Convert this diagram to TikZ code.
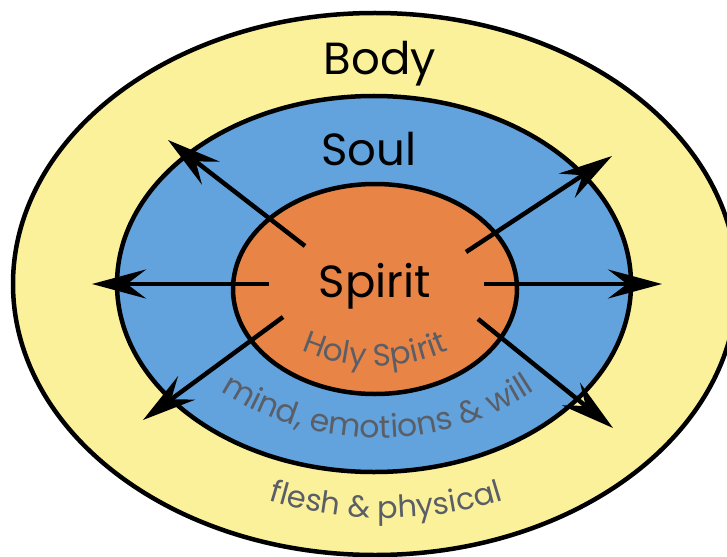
\documentclass[tikz,border=0pt]{standalone}
\usepackage{fontspec}
\setmainfont{Poppins}
\usetikzlibrary{arrows.meta}
\definecolor{bodyyellow}{RGB}{251,241,155}
\definecolor{soulblue}{RGB}{99,163,221}
\definecolor{spiritorange}{RGB}{232,132,69}
\definecolor{txtgray}{RGB}{90,94,102}
\newlength\arcw
\newlength\arcpos
\newlength\chw
\newcommand\measurech[2]{%
  \pgfinterruptpicture\settowidth{\chw}{#1#2}\global\chw=\chw\endpgfinterruptpicture}
% #1 centre "x,y", #2 radius, #3 font, #4 list of characters
\newcommand\arctext[4]{%
  \global\arcw=0pt
  \foreach \ch in {#4}{\measurech{#3}{\ch}\global\advance\arcw by \chw}%
  \global\arcpos=-0.5\arcw
  \foreach \ch in {#4}{%
    \measurech{#3}{\ch}%
    \pgfmathsetmacro\ang{270+(\arcpos+0.5*\chw)/#2*180/pi}%
    \node[anchor=base, inner sep=0pt, text=txtgray, font=#3, rotate=\ang-270]
      at ([shift={(\ang:#2)}]#1) {\ch};
    \global\advance\arcpos by \chw
  }%
}
\begin{document}
\begin{tikzpicture}[x=1pt,y=1pt,
  ring/.style={draw=black, line width=4.5pt},
  arr/.style={line width=4.5pt, -{Stealth[length=54pt,width=29pt,inset=19pt]}},
  big/.style={font=\fontsize{45}{45}\selectfont, anchor=base, inner sep=0pt}
]
\useasboundingbox (0,0) rectangle (727,-556);
\begin{scope}
\clip (0,0) rectangle (727,-556);
\draw[ring, fill=bodyyellow] (375,-284) ellipse [x radius=362, y radius=271];
\end{scope}
\draw[ring, fill=soulblue] (374,-284) ellipse [x radius=257, y radius=188];
\draw[ring, fill=spiritorange] (375,-289) ellipse [x radius=142, y radius=105];

\node[big] (body) at (380,-75) {Body};
\node[big] (soul) at (369,-165) {Soul};
\node[big] (spirit) at (375,-297) {Spirit};

\arctext{375,-183}{183}{\fontsize{31}{31}\selectfont}{H,o,l,y,\ ,S,p,i,r,i,t}
\arctext{378,-152}{286}{\fontsize{31.5}{31.5}\selectfont}{m,i,n,d,{,},\ ,e,m,o,t,i,o,n,s,\ ,\&,\ ,w,i,l,l}
\arctext{386,-122}{396}{\fontsize{30.5}{30.5}\selectfont}{f,l,e,s,h,\ ,\&,\ ,p,h,y,s,i,c,a,l}

\coordinate (s1) at (305,-246); \coordinate (t1) at (168,-140);
\coordinate (s2) at (269,-284); \coordinate (t2) at (92,-284);
\coordinate (s3) at (283,-317); \coordinate (t3) at (143,-420);
\coordinate (s4) at (484,-284); \coordinate (t4) at (662,-284);
\coordinate (s5) at (466,-252); \coordinate (t5) at (612,-156);
\coordinate (s6) at (478,-319); \coordinate (t6) at (613,-428);
\foreach \i in {1,...,6} \draw[arr] (s\i) -- (t\i);
\end{tikzpicture}
\end{document}
